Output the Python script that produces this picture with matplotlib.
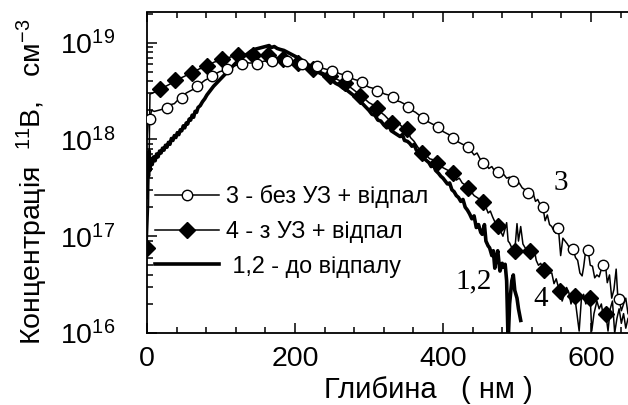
import numpy as np
import matplotlib
matplotlib.use("Agg")
import matplotlib.pyplot as plt
from matplotlib.ticker import FixedLocator, LogLocator, NullFormatter, FixedFormatter, MultipleLocator

plt.rcParams['font.family'] = ['Liberation Sans', 'DejaVu Sans']
plt.rcParams['mathtext.fontset'] = 'custom'
plt.rcParams['mathtext.rm'] = 'Liberation Sans'
plt.rcParams['mathtext.it'] = 'Liberation Sans:italic'
plt.rcParams['mathtext.bf'] = 'Liberation Sans:bold'

# ---------------- data (depth in nm, log10 of concentration) ----------------
# curve 1,2 : before anneal (thick line)
d12 = [0, 1, 2, 3, 4, 5, 7, 9, 11, 13, 15, 17, 19, 21, 23, 25, 27, 29, 31, 33, 35, 37, 39, 41, 43, 45,
       47, 49, 51, 53, 55, 57, 59, 61, 63, 65, 67, 69, 72, 75, 78, 81, 85, 90, 95, 100, 105, 110, 115,
       120, 125, 130, 135, 140, 145, 150, 155, 160, 165, 168, 172, 176, 180, 185, 190, 195, 200, 205,
       210, 215, 220, 225, 230, 235, 240, 245, 250, 255, 260, 265, 270, 275, 280, 285, 290, 295, 300,
       304, 308, 312, 316, 320, 324, 327, 330, 334, 338, 342, 345, 348, 352, 355, 358, 361, 364, 368,
       372, 375, 378, 381, 384, 387, 390, 394, 397, 400, 403, 406, 409, 412, 415, 418, 421, 424, 427,
       430, 433, 436, 439, 442, 445, 448, 451, 453, 456, 458, 461, 463, 466, 468, 470, 472, 474, 476,
       477, 480, 482, 484, 486, 488, 490, 493, 495, 497, 500, 502, 505]
c12 = [17.40, 17.85, 17.62, 17.88, 17.68, 17.80, 17.74, 17.82, 17.78, 17.85, 17.82, 17.88, 17.86, 17.91,
       17.89, 17.94, 17.92, 17.97, 17.95, 18.01, 17.99, 18.04, 18.02, 18.07, 18.05, 18.10, 18.09, 18.14,
       18.12, 18.17, 18.16, 18.21, 18.20, 18.25, 18.23, 18.29, 18.28, 18.33, 18.35, 18.39, 18.42, 18.46,
       18.50, 18.55, 18.59, 18.63, 18.67, 18.71, 18.75, 18.79, 18.82, 18.86, 18.88, 18.91, 18.93, 18.94,
       18.95, 18.96, 18.97, 18.95, 18.96, 18.94, 18.93, 18.92, 18.90, 18.88, 18.86, 18.84, 18.81, 18.79,
       18.76, 18.73, 18.70, 18.68, 18.66, 18.63, 18.61, 18.58, 18.56, 18.53, 18.51, 18.48, 18.45, 18.42,
       18.38, 18.34, 18.30, 18.26, 18.25, 18.20, 18.19, 18.15, 18.12, 18.14, 18.09, 18.07, 18.05, 18.03,
       18.05, 17.99, 17.98, 17.96, 17.93, 17.95, 17.89, 17.87, 17.83, 17.80, 17.78, 17.76, 17.72, 17.74,
       17.68, 17.65, 17.62, 17.60, 17.57, 17.54, 17.55, 17.48, 17.46, 17.42, 17.40, 17.36, 17.38, 17.30,
       17.27, 17.23, 17.18, 17.21, 17.09, 17.12, 17.04, 17.02, 17.12, 16.95, 16.90, 16.88, 16.80, 16.85,
       16.67, 16.78, 16.85, 16.70, 16.64, 16.72, 16.68, 16.71, 16.54, 15.90, 16.30, 16.54, 16.60, 16.44,
       16.36, 16.25, 16.13]

# curve 3 : without US + anneal (line)
d3 = [0, 2, 4, 6, 10, 15, 20, 27, 32, 37, 42, 47, 53, 58, 63, 68, 73, 78, 83, 88, 93, 98, 103, 108, 113,
      118, 123, 128, 133, 138, 143, 149, 154, 159, 164, 169, 174, 179, 184, 189, 194, 199, 204, 209, 215,
      220, 225, 230, 235, 240, 245, 250, 255, 260, 265, 270, 275, 280, 285, 290, 295, 300, 305, 311, 316,
      321, 326, 332, 337, 342, 347, 353, 358, 363, 368, 373, 378, 383, 388, 393, 398, 403, 408, 414, 419,
      424, 429, 434, 438, 442, 446, 450, 454, 458, 462, 466, 470, 474, 478, 482, 486, 490, 495, 499, 503,
      507, 511, 515, 519, 522, 525, 528, 531, 535, 538, 541, 544, 547, 550, 553, 556, 559, 562, 565, 568,
      571, 573, 576, 579, 582, 585, 588, 590, 593, 596, 599, 602, 605, 608, 611, 614, 616, 619, 622, 625,
      628, 631, 634, 636, 638, 641, 644, 647, 650]
c3 = [18.00, 18.21, 18.21, 18.30, 18.29, 18.30, 18.31, 18.33, 18.36, 18.37, 18.41, 18.43, 18.48, 18.50,
      18.52, 18.55, 18.58, 18.61, 18.63, 18.66, 18.68, 18.70, 18.71, 18.73, 18.75, 18.76, 18.77, 18.78,
      18.80, 18.79, 18.79, 18.78, 18.80, 18.81, 18.80, 18.81, 18.82, 18.81, 18.80, 18.81, 18.80, 18.79,
      18.79, 18.78, 18.78, 18.77, 18.76, 18.76, 18.74, 18.73, 18.72, 18.71, 18.70, 18.68, 18.67, 18.66,
      18.64, 18.62, 18.61, 18.59, 18.56, 18.54, 18.53, 18.50, 18.49, 18.47, 18.46, 18.44, 18.40, 18.39,
      18.37, 18.34, 18.30, 18.28, 18.25, 18.22, 18.19, 18.17, 18.15, 18.13, 18.09, 18.07, 18.05, 18.02,
      17.98, 17.96, 17.94, 17.92, 17.88, 17.84, 17.86, 17.80, 17.76, 17.74, 17.70, 17.72, 17.67, 17.66,
      17.62, 17.64, 17.60, 17.61, 17.57, 17.53, 17.55, 17.50, 17.48, 17.45, 17.41, 17.44, 17.36, 17.38,
      17.33, 17.30, 17.16, 17.22, 17.12, 17.10, 17.05, 17.03, 17.08, 16.80, 16.98, 16.95, 16.92, 16.88,
      16.90, 16.87, 16.78, 16.75, 16.62, 16.59, 16.68, 16.86, 16.86, 16.70, 16.69, 16.57, 16.60, 16.58,
      16.66, 16.70, 16.74, 16.52, 16.60, 16.36, 16.45, 16.66, 16.40, 16.35, 16.23, 16.30, 16.36, 16.20]
# curve 3 markers (open circles)
m3_d = [4, 27, 47, 68, 88, 108, 128, 149, 169, 189, 209, 230, 250, 270, 290, 311, 332, 353, 373, 393,
        414, 434, 454, 474, 495, 515, 535, 556, 576, 596, 616, 638]
m3_c = [18.21, 18.33, 18.43, 18.55, 18.66, 18.73, 18.78, 18.78, 18.81, 18.81, 18.78, 18.76, 18.71, 18.66,
        18.59, 18.50, 18.44, 18.34, 18.22, 18.13, 18.02, 17.92, 17.76, 17.66, 17.57, 17.45, 17.30, 17.08,
        16.87, 16.86, 16.70, 16.35]

# curve 4 : with US + anneal (line)
d4 = [0, 2, 4, 8, 13, 18, 23, 28, 33, 38, 44, 50, 55, 61, 66, 71, 76, 81, 86, 91, 96, 101, 106, 112, 117,
      123, 128, 133, 138, 143, 148, 154, 159, 164, 169, 174, 179, 184, 189, 194, 199, 204, 209, 214, 219,
      224, 230, 235, 241, 247, 252, 257, 263, 268, 273, 278, 283, 288, 294, 300, 305, 311, 316, 321, 326,
      331, 336, 341, 346, 351, 356, 361, 366, 372, 377, 382, 387, 392, 397, 402, 407, 410, 414, 418, 422,
      426, 430, 434, 438, 442, 446, 450, 454, 458, 461, 464, 467, 470, 474, 478, 481, 484, 486, 488, 490,
      493, 497, 500, 502, 505, 508, 511, 514, 517, 520, 523, 526, 529, 532, 536, 540, 544, 547, 550, 553,
      555, 558, 561, 564, 567, 570, 573, 576, 578, 581, 584, 587, 590, 593, 596, 599, 601, 604, 608, 611,
      614, 617, 620, 623, 626, 629, 632, 635, 638, 641, 644, 647, 650]
c4 = [16.88, 17.30, 18.47, 18.48, 18.50, 18.52, 18.54, 18.56, 18.58, 18.61, 18.63, 18.65, 18.67, 18.69,
      18.71, 18.73, 18.74, 18.76, 18.78, 18.80, 18.81, 18.83, 18.84, 18.85, 18.86, 18.87, 18.88, 18.87,
      18.88, 18.87, 18.88, 18.87, 18.88, 18.87, 18.86, 18.85, 18.84, 18.83, 18.82, 18.81, 18.80, 18.79,
      18.78, 18.76, 18.75, 18.73, 18.71, 18.70, 18.68, 18.66, 18.64, 18.62, 18.60, 18.58, 18.55, 18.52,
      18.49, 18.45, 18.42, 18.38, 18.36, 18.33, 18.28, 18.25, 18.21, 18.17, 18.14, 18.16, 18.12, 18.11,
      18.02, 17.98, 17.92, 17.86, 17.84, 17.80, 17.79, 17.76, 17.72, 17.70, 17.68, 17.62, 17.65, 17.58,
      17.60, 17.55, 17.53, 17.50, 17.46, 17.42, 17.40, 17.38, 17.35, 17.30, 17.24, 17.26, 17.20, 17.15,
      17.11, 17.05, 17.00, 17.08, 17.14, 16.95, 16.93, 16.88, 16.85, 17.13, 16.95, 17.10, 16.92, 16.88,
      16.86, 16.85, 16.80, 16.88, 16.75, 16.70, 16.72, 16.65, 16.68, 16.62, 16.62, 16.51, 16.56, 16.50,
      16.43, 16.33, 16.40, 16.47, 16.42, 16.30, 16.40, 16.38, 16.20, 16.02, 16.35, 16.40, 16.30, 16.38,
      16.36, 16.02, 16.20, 16.33, 16.25, 16.30, 16.15, 16.20, 16.02, 16.25, 16.33, 16.00, 16.15, 16.25,
      16.10, 16.20, 16.05, 16.15]
# curve 4 markers (filled diamonds)
m4_d = [0, 18, 38, 61, 81, 101, 123, 143, 164, 184, 204, 224, 247, 268, 288, 311, 331, 351, 372, 392,
        414, 434, 454, 474, 497, 517, 536, 558, 578, 599, 620]
m4_c = [16.88, 18.52, 18.61, 18.69, 18.76, 18.83, 18.87, 18.87, 18.87, 18.83, 18.79, 18.73, 18.66, 18.58,
        18.45, 18.33, 18.17, 18.11, 17.86, 17.76, 17.65, 17.50, 17.35, 17.11, 16.85, 16.85, 16.65, 16.43,
        16.38, 16.36, 16.20]

legend_labels = ['3 - без УЗ + відпал', '4 - з УЗ + відпал', ' 1,2 - до відпалу']
curve_tags = ['3', '4', '1,2']
tag_pos = [(559, 17.55), (532, 16.35), (442, 16.53)]

xticks = [0, 200, 400, 600]
yticks = [1e16, 1e17, 1e18, 1e19]
ytick_labels = [r'$\mathregular{10^{16}}$', r'$\mathregular{10^{17}}$',
                r'$\mathregular{10^{18}}$', r'$\mathregular{10^{19}}$']

W, H = 628, 405
fig = plt.figure(figsize=(W / 100, H / 100), dpi=100)
ax = fig.add_axes([147 / W, 1 - 333 / H, (W - 147) / W, (333 - 12.5) / H])

p = lambda a: 10 ** np.asarray(a)

THIN = 1.1
THICK = 2.6
ax.plot(d12, p(c12), color='black', lw=THICK, zorder=2)
ax.plot(d4, p(c4), color='black', lw=THIN, zorder=3)
ax.plot(m4_d, p(m4_c), ls='none', marker='D', ms=8, mfc='black', mec='black', zorder=4)
ax.plot(d3, p(c3), color='black', lw=THIN, zorder=3)
ax.plot(m3_d, p(m3_c), ls='none', marker='o', ms=7.5, mfc='white', mec='black', mew=1.0, zorder=5)

# legend handles
h3, = ax.plot([], [], color='black', lw=THIN, marker='o', ms=7.5, mfc='white', mec='black', mew=1.0)
h4, = ax.plot([], [], color='black', lw=THIN, marker='D', ms=8, mfc='black', mec='black')
h12, = ax.plot([], [], color='black', lw=THICK)
ax.legend([h3, h4, h12], legend_labels, loc='upper left', frameon=False,
          bbox_to_anchor=(155 / W, 1 - 185 / H), bbox_transform=fig.transFigure,
          borderpad=0, borderaxespad=0, handlelength=2.75, handletextpad=0.28,
          labelspacing=0.5, fontsize=16.8, numpoints=1, markerscale=1)

for t, (x, y) in zip(curve_tags, tag_pos):
    ax.text(x, 10 ** y, t, family='Liberation Serif', fontsize=21, ha='center', va='center')

ax.set_yscale('log')
ax.set_xlim(0, 650)
ax.set_ylim(1e16, 2.05e19)

ax.xaxis.set_major_locator(FixedLocator(xticks))
ax.xaxis.set_minor_locator(MultipleLocator(40))
ax.yaxis.set_major_locator(FixedLocator(yticks))
ax.yaxis.set_major_formatter(FixedFormatter(ytick_labels))
ax.yaxis.set_minor_locator(LogLocator(base=10, subs=np.arange(2, 10)))
ax.yaxis.set_minor_formatter(NullFormatter())

ax.tick_params(which='both', direction='in', top=True, right=False, width=1.1)
ax.tick_params(which='major', length=7)
ax.tick_params(which='minor', length=4)
ax.tick_params(axis='x', which='major', labelsize=20.5, pad=9)
ax.tick_params(axis='y', which='major', labelsize=20.5, pad=23)
for s in ['left', 'top', 'bottom']:
    ax.spines[s].set_linewidth(1.3)
ax.spines['right'].set_visible(False)

fig.text(428 / W, 1 - 390 / H, 'Глибина   ( нм )', fontsize=21, ha='center', va='center')
fig.text(32 / W, 1 - 182 / H, r'Концентрація  $^{11}$B,   см$^{-3}$', fontsize=20.5,
         rotation=90, ha='center', va='center')

fig.savefig('out.png', dpi=100)
